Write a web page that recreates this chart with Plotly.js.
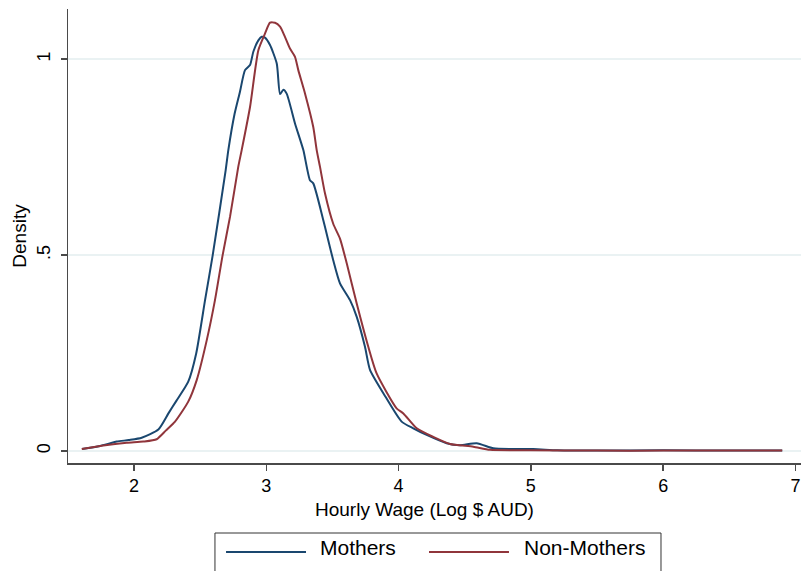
<!DOCTYPE html>
<html>
<head>
<meta charset="utf-8">
<script src="https://cdn.plot.ly/plotly-3.0.1.min.js"></script>
<style>html,body{margin:0;padding:0;background:#fff;}#chart{width:801px;height:571px;}</style>
</head>
<body>
<div id="chart"></div>
<script>
// Kernel density of log hourly wage
const mothersX = [1.607,1.743,1.87,1.96,2.058,2.184,2.26,2.32,2.41,2.47,2.537,2.595,2.693,2.713,2.76,2.801,2.839,2.877,2.902,2.94,2.965,2.99,3.028,3.079,3.104,3.129,3.154,3.217,3.28,3.33,3.355,3.431,3.506,3.557,3.633,3.683,3.746,3.784,3.9,4.023,4.111,4.212,4.363,4.464,4.59,4.716,4.85,5.018,5.2,5.5,6.0,6.5,6.9];
const mothersY = [0.005,0.013,0.024,0.028,0.034,0.055,0.096,0.128,0.177,0.249,0.385,0.5,0.717,0.768,0.86,0.917,0.972,0.985,1.019,1.048,1.057,1.055,1.036,0.989,0.911,0.922,0.912,0.836,0.768,0.691,0.683,0.589,0.487,0.428,0.385,0.343,0.266,0.207,0.139,0.075,0.058,0.041,0.02,0.015,0.02,0.007,0.005,0.005,0.002,0.001,0.002,0.001,0.001];

const nonMothersX = [1.605,1.768,1.945,2.07,2.171,2.24,2.31,2.41,2.474,2.55,2.612,2.67,2.726,2.788,2.814,2.877,2.94,2.99,3.028,3.066,3.104,3.141,3.179,3.217,3.242,3.293,3.355,3.381,3.406,3.444,3.506,3.557,3.608,3.683,3.771,3.834,3.985,4.036,4.137,4.262,4.388,4.565,4.691,5.0,5.5,6.0,6.5,6.9];
const nonMothersY = [0.005,0.014,0.021,0.024,0.03,0.052,0.075,0.126,0.181,0.283,0.385,0.5,0.598,0.725,0.768,0.878,1.023,1.065,1.093,1.093,1.083,1.057,1.027,1.006,0.972,0.912,0.827,0.768,0.725,0.657,0.58,0.542,0.479,0.377,0.266,0.198,0.109,0.096,0.058,0.036,0.018,0.011,0.003,0.002,0.001,0.001,0.001,0.001];

const seriesNames = ["Mothers", "Non-Mothers"];
const xTickVals = [2,3,4,5,6,7];
const xTickText = ["2","3","4","5","6","7"];
const yTickVals = [0,0.5,1];
const yTickText = ["0",".5","1"];
const xTitle = "Hourly Wage (Log $ AUD)";
const yTitle = "Density";

const colors = ["#1a476f", "#90353b"];
const font = "Liberation Sans, Arial, Helvetica, sans-serif";

const traces = [
  {x: mothersX, y: mothersY, name: seriesNames[0], type: "scatter", mode: "lines",
   line: {color: colors[0], width: 2, shape: "spline", smoothing: 0.6}, showlegend: false},
  {x: nonMothersX, y: nonMothersY, name: seriesNames[1], type: "scatter", mode: "lines",
   line: {color: colors[1], width: 2, shape: "spline", smoothing: 0.6}, showlegend: false}
];

// manual legend (paper coordinates)
const lg = {x0: 0.2005, x1: 0.809, y0: -0.1542, y1: -0.27, lineY: -0.196, textY: -0.1872};
const layout = {
  width: 801, height: 571,
  margin: {l: 68, r: 0, t: 9, b: 108},
  paper_bgcolor: "#ffffff", plot_bgcolor: "#ffffff",
  font: {family: font, size: 18, color: "#000"},
  xaxis: {
    range: [1.501, 7.042], tickvals: xTickVals, ticktext: xTickText,
    showgrid: false, zeroline: false, showline: true, linecolor: "#4a4a4a", linewidth: 1.5,
    ticks: "outside", ticklen: 6, tickwidth: 1.5, tickcolor: "#4a4a4a",
    tickfont: {size: 18},
    automargin: false
  },
  yaxis: {
    range: [-0.0306, 1.128], tickvals: yTickVals, ticktext: yTickText, tickangle: -90,
    ticklabelstandoff: 3,
    showgrid: true, gridcolor: "#eaf2f3", gridwidth: 1.5,
    zeroline: false, showline: true, linecolor: "#4a4a4a", linewidth: 1.5,
    ticks: "outside", ticklen: 6, tickwidth: 1.5, tickcolor: "#4a4a4a",
    tickfont: {size: 18},
    title: {text: yTitle, font: {size: 19}, standoff: 2},
    automargin: false
  },
  shapes: [
    {type: "rect", xref: "paper", yref: "paper", x0: lg.x0, x1: lg.x1, y0: lg.y0, y1: lg.y1,
     line: {color: "#333", width: 1}, fillcolor: "rgba(0,0,0,0)"},
    {type: "line", xref: "paper", yref: "paper", x0: 0.2156, x1: 0.3247, y0: lg.lineY, y1: lg.lineY,
     line: {color: colors[0], width: 2}},
    {type: "line", xref: "paper", yref: "paper", x0: 0.4925, x1: 0.6016, y0: lg.lineY, y1: lg.lineY,
     line: {color: colors[1], width: 2}}
  ],
  annotations: [
    {xref: "paper", yref: "paper", x: 0.4864, y: -0.1035, xanchor: "center", yanchor: "middle",
     text: xTitle, showarrow: false, font: {size: 19}},
    {xref: "paper", yref: "paper", x: 0.3411, y: lg.textY, xanchor: "left", yanchor: "middle",
     text: seriesNames[0], showarrow: false, font: {size: 21}},
    {xref: "paper", yref: "paper", x: 0.6194, y: lg.textY, xanchor: "left", yanchor: "middle",
     text: seriesNames[1], showarrow: false, font: {size: 21}}
  ]
};

Plotly.newPlot("chart", traces, layout, {displayModeBar: false, staticPlot: true});
</script>
</body>
</html>
